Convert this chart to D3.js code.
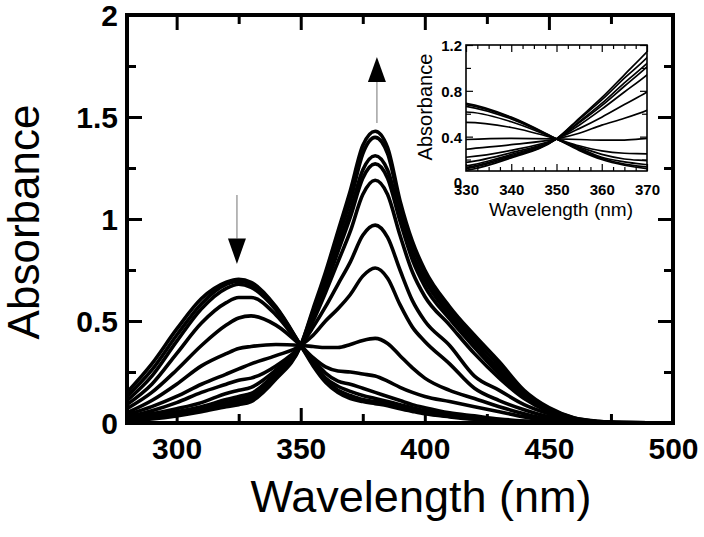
<!DOCTYPE html>
<html>
<head>
<meta charset="utf-8">
<script src="https://cdn.jsdelivr.net/npm/d3@7"></script>
<style>
  html, body { margin: 0; padding: 0; background: #fff; }
  svg { display: block; }
  text { font-family: "Liberation Sans", Arial, sans-serif; fill: #000; }
</style>
</head>
<body>
<svg id="chart" width="704" height="537"></svg>
<script>
// ---------------- DATA ----------------
const wavelengths = [280, 290, 300, 310, 320, 325, 330, 340, 350, 355, 360, 365, 370, 375, 380, 385, 390, 395, 400, 410, 420, 430, 440, 450, 460, 470, 480, 500];

const spectrum01 = [0.15, 0.29, 0.46, 0.61, 0.69, 0.705, 0.69, 0.57, 0.38, 0.28, 0.20, 0.15, 0.12, 0.105, 0.095, 0.085, 0.07, 0.057, 0.045, 0.03, 0.018, 0.01, 0.005, 0.002, 0.001, 0, 0, 0];
const spectrum02 = [0.13, 0.26, 0.43, 0.585, 0.68, 0.695, 0.68, 0.565, 0.38, 0.29, 0.21, 0.16, 0.135, 0.115, 0.105, 0.095, 0.08, 0.065, 0.05, 0.033, 0.02, 0.012, 0.006, 0.002, 0.001, 0, 0, 0];
const spectrum03 = [0.11, 0.23, 0.40, 0.56, 0.66, 0.68, 0.665, 0.555, 0.38, 0.30, 0.22, 0.18, 0.155, 0.135, 0.12, 0.105, 0.09, 0.075, 0.06, 0.04, 0.025, 0.015, 0.008, 0.003, 0.001, 0, 0, 0];
const spectrum04 = [0.09, 0.19, 0.34, 0.49, 0.59, 0.615, 0.615, 0.53, 0.38, 0.31, 0.245, 0.205, 0.19, 0.17, 0.15, 0.13, 0.11, 0.09, 0.075, 0.05, 0.035, 0.02, 0.01, 0.005, 0.002, 0, 0, 0];
const spectrum05 = [0.07, 0.15, 0.26, 0.38, 0.48, 0.515, 0.525, 0.48, 0.38, 0.32, 0.275, 0.255, 0.25, 0.24, 0.23, 0.205, 0.175, 0.15, 0.13, 0.105, 0.08, 0.055, 0.03, 0.012, 0.004, 0.001, 0, 0];
const spectrum06 = [0.05, 0.11, 0.19, 0.28, 0.34, 0.365, 0.375, 0.385, 0.38, 0.375, 0.37, 0.37, 0.385, 0.405, 0.415, 0.39, 0.33, 0.27, 0.22, 0.16, 0.12, 0.08, 0.045, 0.018, 0.006, 0.002, 0, 0];
const spectrum07 = [0.04, 0.08, 0.13, 0.19, 0.24, 0.265, 0.29, 0.33, 0.38, 0.43, 0.50, 0.56, 0.63, 0.72, 0.76, 0.71, 0.58, 0.47, 0.40, 0.29, 0.17, 0.11, 0.065, 0.03, 0.01, 0.003, 0.001, 0];
const spectrum08 = [0.03, 0.06, 0.10, 0.15, 0.19, 0.21, 0.22, 0.28, 0.38, 0.47, 0.57, 0.68, 0.79, 0.92, 0.97, 0.91, 0.75, 0.60, 0.50, 0.38, 0.23, 0.16, 0.09, 0.045, 0.015, 0.004, 0.001, 0];
const spectrum09 = [0.025, 0.045, 0.07, 0.10, 0.145, 0.16, 0.175, 0.26, 0.38, 0.50, 0.64, 0.79, 0.94, 1.12, 1.19, 1.12, 0.92, 0.74, 0.62, 0.48, 0.34, 0.22, 0.12, 0.055, 0.018, 0.005, 0.001, 0];
const spectrum10 = [0.02, 0.035, 0.055, 0.08, 0.115, 0.13, 0.145, 0.245, 0.38, 0.52, 0.67, 0.84, 1.01, 1.20, 1.27, 1.20, 0.99, 0.80, 0.67, 0.51, 0.37, 0.24, 0.13, 0.06, 0.02, 0.006, 0.002, 0];
const spectrum11 = [0.015, 0.03, 0.045, 0.07, 0.10, 0.115, 0.13, 0.235, 0.38, 0.53, 0.69, 0.87, 1.04, 1.24, 1.31, 1.24, 1.02, 0.83, 0.70, 0.53, 0.39, 0.26, 0.14, 0.065, 0.022, 0.006, 0.002, 0];
const spectrum12 = [0.012, 0.025, 0.04, 0.06, 0.09, 0.10, 0.12, 0.225, 0.38, 0.55, 0.72, 0.91, 1.09, 1.32, 1.40, 1.32, 1.07, 0.87, 0.73, 0.55, 0.41, 0.28, 0.15, 0.07, 0.024, 0.007, 0.002, 0];
const spectrum13 = [0.01, 0.02, 0.035, 0.055, 0.08, 0.09, 0.105, 0.215, 0.38, 0.56, 0.74, 0.94, 1.14, 1.36, 1.43, 1.35, 1.09, 0.89, 0.75, 0.57, 0.43, 0.30, 0.16, 0.075, 0.026, 0.008, 0.002, 0];

const spectra = [spectrum01, spectrum02, spectrum03, spectrum04, spectrum05, spectrum06, spectrum07,
                 spectrum08, spectrum09, spectrum10, spectrum11, spectrum12, spectrum13];

const mainXTicks = [300, 350, 400, 450, 500];
const mainXMinor = [325, 375, 425, 475];
const mainYTicks = [0, 0.5, 1, 1.5, 2];
const mainYMinor = [0.25, 0.75, 1.25, 1.75];
const insetXTicks = [330, 340, 350, 360, 370];
const insetXMinor = [332.5, 335, 337.5, 342.5, 345, 347.5, 352.5, 355, 357.5, 362.5, 365, 367.5];
const insetYTicks = [0, 0.4, 0.8, 1.2];
const insetYMinor = [0.2, 0.6, 1.0];

// arrows: [wavelength, tail absorbance, head-base absorbance, tip absorbance]
const arrowDown = [324.3, 1.118, 0.905, 0.78];
const arrowUp = [380.7, 1.47, 1.672, 1.794];

// ---------------- CHART ----------------
const svg = d3.select("#chart");
const L = 127, R = 673, T = 15, B = 423;
const x = d3.scaleLinear().domain([280, 500]).range([L, R]);
const y = d3.scaleLinear().domain([0, 2]).range([B, T]);

svg.append("defs").append("clipPath").attr("id", "mainClip")
  .append("rect").attr("x", L).attr("y", T).attr("width", R - L).attr("height", B - T);

const line = d3.line()
  .x((d, i) => x(wavelengths[i]))
  .y(d => y(d))
  .curve(d3.curveMonotoneX);

svg.append("g").attr("clip-path", "url(#mainClip)")
  .selectAll("path").data(spectra).join("path")
  .attr("d", line)
  .attr("fill", "none").attr("stroke", "#000").attr("stroke-width", 3.6)
  .attr("stroke-linejoin", "round");

function styleAxis(g, w) {
  g.select(".domain").remove();
  g.selectAll(".tick line").attr("stroke", "#000").attr("stroke-width", w);
}

// main ticks (inward)
const gxB = svg.append("g").attr("transform", `translate(0,${B})`)
  .call(d3.axisBottom(x).tickValues(mainXTicks).tickSize(-15).tickFormat(d3.format("d")));
styleAxis(gxB, 3);
gxB.selectAll("text").attr("y", 36).attr("dy", 0)
  .style("font-size", "30px").style("font-weight", "bold");
svg.append("g").attr("transform", `translate(0,${B})`)
  .call(d3.axisBottom(x).tickValues(mainXMinor).tickSize(-9).tickFormat(""))
  .call(g => styleAxis(g, 3));
svg.append("g").attr("transform", `translate(0,${T})`)
  .call(d3.axisTop(x).tickValues(mainXTicks).tickSize(-15).tickFormat(""))
  .call(g => styleAxis(g, 3));
svg.append("g").attr("transform", `translate(0,${T})`)
  .call(d3.axisTop(x).tickValues(mainXMinor).tickSize(-9).tickFormat(""))
  .call(g => styleAxis(g, 3));

const gyL = svg.append("g").attr("transform", `translate(${L},0)`)
  .call(d3.axisLeft(y).tickValues(mainYTicks).tickSize(-15).tickFormat(d => d3.format("")(d)));
styleAxis(gyL, 3);
gyL.selectAll("text").attr("x", -9).attr("dy", "0.36em")
  .style("font-size", "30px").style("font-weight", "bold");
svg.append("g").attr("transform", `translate(${L},0)`)
  .call(d3.axisLeft(y).tickValues(mainYMinor).tickSize(-9).tickFormat(""))
  .call(g => styleAxis(g, 3));
svg.append("g").attr("transform", `translate(${R},0)`)
  .call(d3.axisRight(y).tickValues(mainYTicks).tickSize(-15).tickFormat(""))
  .call(g => styleAxis(g, 3));
svg.append("g").attr("transform", `translate(${R},0)`)
  .call(d3.axisRight(y).tickValues(mainYMinor).tickSize(-9).tickFormat(""))
  .call(g => styleAxis(g, 3));

svg.append("rect").attr("x", L).attr("y", T).attr("width", R - L).attr("height", B - T)
  .attr("fill", "none").attr("stroke", "#000").attr("stroke-width", 4);

// axis titles
svg.append("text").attr("x", 421).attr("y", 512).attr("text-anchor", "middle")
  .style("font-size", "45px").text("Wavelength (nm)");
svg.append("text").attr("transform", "translate(39,222) rotate(-90)").attr("text-anchor", "middle")
  .style("font-size", "44px").text("Absorbance");

// arrows
function drawArrow(a) {
  const ax = x(a[0]);
  svg.append("line").attr("x1", ax).attr("x2", ax).attr("y1", y(a[1])).attr("y2", y(a[2]))
    .attr("stroke", "#8a8a8a").attr("stroke-width", 1.2);
  const yb = y(a[2]), yt = y(a[3]);
  svg.append("path").attr("d", `M${ax - 9},${yb} L${ax + 9},${yb} L${ax},${yt} Z`).attr("fill", "#000");
}
drawArrow(arrowDown);
drawArrow(arrowUp);

// ---------------- INSET ----------------
const iL = 466, iR = 647, iT = 45, iB = 171;
const xi = d3.scaleLinear().domain([330, 370]).range([iL, iR]);
const yi = d3.scaleLinear().domain([0.1, 1.2]).range([iB, iT]);

svg.append("rect").attr("x", iL).attr("y", iT).attr("width", iR - iL).attr("height", iB - iT).attr("fill", "#fff");
svg.select("defs").append("clipPath").attr("id", "insetClip")
  .append("rect").attr("x", iL).attr("y", iT).attr("width", iR - iL).attr("height", iB - iT);

const lineI = d3.line()
  .x((d, i) => xi(wavelengths[i]))
  .y(d => yi(d))
  .curve(d3.curveMonotoneX);

svg.append("g").attr("clip-path", "url(#insetClip)")
  .selectAll("path").data(spectra).join("path")
  .attr("d", lineI)
  .attr("fill", "none").attr("stroke", "#000").attr("stroke-width", 1.7);

const gixB = svg.append("g").attr("transform", `translate(0,${iB})`)
  .call(d3.axisBottom(xi).tickValues(insetXTicks).tickSize(-7).tickFormat(d3.format("d")));
styleAxis(gixB, 1.2);
gixB.selectAll("text").attr("y", 24).attr("dy", 0)
  .style("font-size", "15px").style("font-weight", "bold");
svg.append("g").attr("transform", `translate(0,${iB})`)
  .call(d3.axisBottom(xi).tickValues(insetXMinor).tickSize(-4).tickFormat(""))
  .call(g => styleAxis(g, 1.2));
svg.append("g").attr("transform", `translate(0,${iT})`)
  .call(d3.axisTop(xi).tickValues(insetXTicks).tickSize(-7).tickFormat(""))
  .call(g => styleAxis(g, 1.2));
svg.append("g").attr("transform", `translate(0,${iT})`)
  .call(d3.axisTop(xi).tickValues(insetXMinor).tickSize(-4).tickFormat(""))
  .call(g => styleAxis(g, 1.2));

const giyL = svg.append("g").attr("transform", `translate(${iL},0)`)
  .call(d3.axisLeft(yi).tickValues(insetYTicks).tickSize(-7).tickFormat(d => d3.format("")(d)));
styleAxis(giyL, 1.2);
giyL.selectAll(".tick").filter(d => d === 0).select("line").remove();
giyL.selectAll("text").attr("x", -4).attr("dy", "0.36em")
  .style("font-size", "15px").style("font-weight", "bold");
svg.append("g").attr("transform", `translate(${iL},0)`)
  .call(d3.axisLeft(yi).tickValues(insetYMinor).tickSize(-5).tickFormat(""))
  .call(g => styleAxis(g, 1.2));
const giyR = svg.append("g").attr("transform", `translate(${iR},0)`)
  .call(d3.axisRight(yi).tickValues(insetYTicks.filter(d => d > 0)).tickSize(-7).tickFormat(""));
styleAxis(giyR, 1.2);
svg.append("g").attr("transform", `translate(${iR},0)`)
  .call(d3.axisRight(yi).tickValues(insetYMinor).tickSize(-5).tickFormat(""))
  .call(g => styleAxis(g, 1.2));

svg.append("rect").attr("x", iL).attr("y", iT).attr("width", iR - iL).attr("height", iB - iT)
  .attr("fill", "none").attr("stroke", "#000").attr("stroke-width", 1.6);

svg.append("text").attr("x", 561).attr("y", 216).attr("text-anchor", "middle")
  .style("font-size", "19px").text("Wavelength (nm)");
svg.append("text").attr("transform", "translate(432,107) rotate(-90)").attr("text-anchor", "middle")
  .style("font-size", "20px").text("Absorbance");
</script>
</body>
</html>
